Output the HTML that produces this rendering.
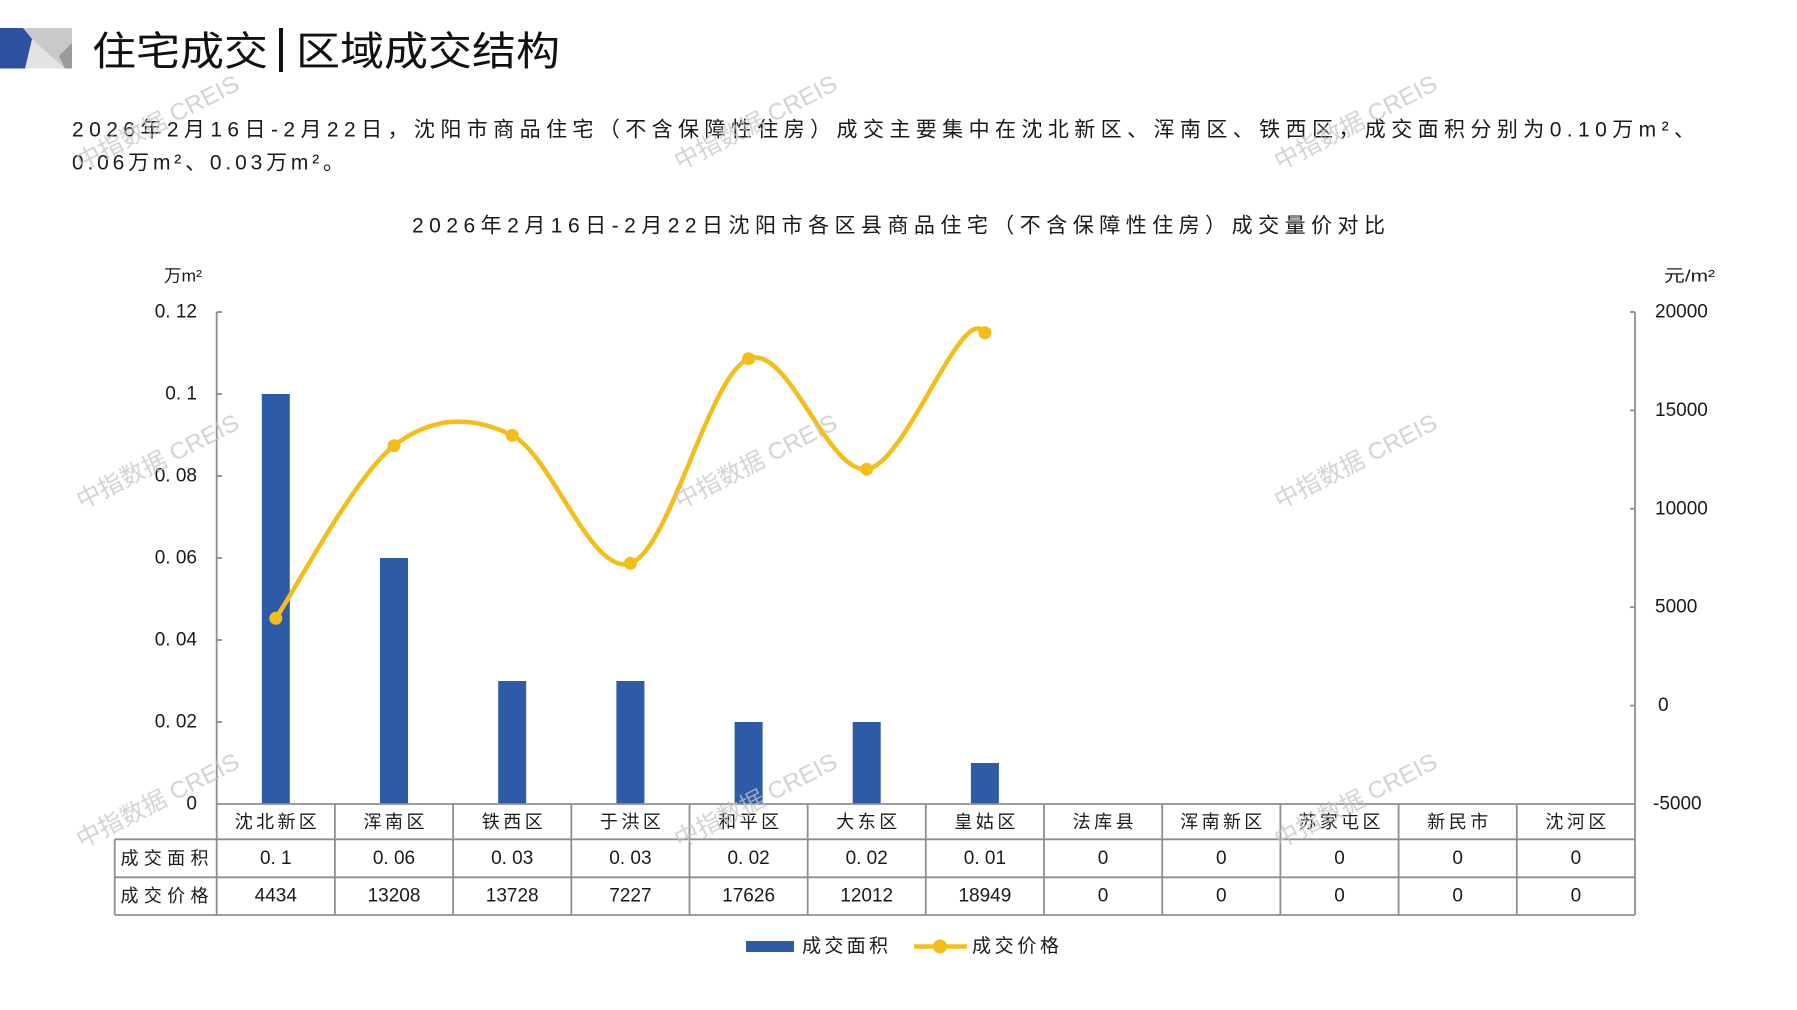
<!DOCTYPE html>
<html><head><meta charset="utf-8">
<style>
html,body{margin:0;padding:0;background:#fff;}
svg{display:block;}
text{font-family:"Liberation Sans","Noto Sans CJK SC",sans-serif;fill:#1a1a1a;}
.cjk{font-family:"Liberation Sans","Noto Sans CJK SC",sans-serif;}
</style></head>
<body>
<svg width="1797" height="1010" viewBox="0 0 1797 1010" xmlns="http://www.w3.org/2000/svg">
<rect x="0" y="0" width="1797" height="1010" fill="#fff"/>

<!-- logo -->
<rect x="23" y="28" width="49" height="40.5" fill="#c9c9c9"/>
<polygon points="31.7,39 65,68.5 25,68.5" fill="#e3e3e3"/>
<polygon points="72,43 72,68.5 65,68.5 59,56" fill="#9a9a9a"/>
<polygon points="0,28 23,28 32,39 25,68.5 0,68.5" fill="#2f50a0"/>

<!-- title -->
<text x="92" y="52" font-size="40" dominant-baseline="central" textLength="176" lengthAdjust="spacingAndGlyphs" style="fill:#111">住宅成交</text>
<rect x="279" y="28" width="4" height="44" fill="#111"/>
<text x="296" y="52" font-size="40" dominant-baseline="central" textLength="264" lengthAdjust="spacingAndGlyphs" style="fill:#111">区域成交结构</text>

<!-- paragraph -->
<text x="72" y="130" font-size="21" dominant-baseline="central" textLength="1623" lengthAdjust="spacing">2026年2月16日-2月22日，沈阳市商品住宅（不含保障性住房）成交主要集中在沈北新区、浑南区、铁西区，成交面积分别为0.10万m²、</text>
<text x="72" y="163" font-size="21" dominant-baseline="central" textLength="272" lengthAdjust="spacing">0.06万m²、0.03万m²。</text>

<!-- chart title -->
<text x="412" y="226" font-size="21" dominant-baseline="central" textLength="973" lengthAdjust="spacing">2026年2月16日-2月22日沈阳市各区县商品住宅（不含保障性住房）成交量价对比</text>

<!-- units -->
<text x="164" y="276" font-size="17" dominant-baseline="central" textLength="38" lengthAdjust="spacingAndGlyphs">万m²</text>
<text x="1664" y="276" font-size="17" dominant-baseline="central" textLength="51" lengthAdjust="spacingAndGlyphs">元/m²</text>

<!-- bars -->
<g fill="#2e5ba7">
<rect x="261.8" y="394" width="28" height="410"/>
<rect x="380.0" y="558" width="28" height="246"/>
<rect x="498.2" y="681" width="28" height="123"/>
<rect x="616.4" y="681" width="28" height="123"/>
<rect x="734.6" y="722" width="28" height="82"/>
<rect x="852.7" y="722" width="28" height="82"/>
<rect x="970.9" y="763" width="28" height="41"/>
</g>

<!-- axes & table lines -->
<g stroke="#8f8f8f" stroke-width="1.8" fill="none">
<line x1="216.7" y1="312" x2="216.7" y2="915"/>
<line x1="1635" y1="312" x2="1635" y2="915"/>
<line x1="216.7" y1="804" x2="1635" y2="804"/>
<line x1="114.7" y1="839.3" x2="1635" y2="839.3"/>
<line x1="114.7" y1="877.3" x2="1635" y2="877.3"/>
<line x1="114.7" y1="915" x2="1635" y2="915"/>
<line x1="114.7" y1="839.3" x2="114.7" y2="915"/>
<line x1="334.9" y1="804" x2="334.9" y2="915"/>
<line x1="453.1" y1="804" x2="453.1" y2="915"/>
<line x1="571.3" y1="804" x2="571.3" y2="915"/>
<line x1="689.5" y1="804" x2="689.5" y2="915"/>
<line x1="807.7" y1="804" x2="807.7" y2="915"/>
<line x1="925.8" y1="804" x2="925.8" y2="915"/>
<line x1="1044.0" y1="804" x2="1044.0" y2="915"/>
<line x1="1162.2" y1="804" x2="1162.2" y2="915"/>
<line x1="1280.4" y1="804" x2="1280.4" y2="915"/>
<line x1="1398.6" y1="804" x2="1398.6" y2="915"/>
<line x1="1516.8" y1="804" x2="1516.8" y2="915"/>
<!-- left ticks -->
<line x1="216.7" y1="312" x2="222" y2="312"/>
<line x1="216.7" y1="394" x2="222" y2="394"/>
<line x1="216.7" y1="476" x2="222" y2="476"/>
<line x1="216.7" y1="558" x2="222" y2="558"/>
<line x1="216.7" y1="640" x2="222" y2="640"/>
<line x1="216.7" y1="722" x2="222" y2="722"/>
<!-- right ticks -->
<line x1="1630" y1="312" x2="1635" y2="312"/>
<line x1="1630" y1="410.4" x2="1635" y2="410.4"/>
<line x1="1630" y1="508.8" x2="1635" y2="508.8"/>
<line x1="1630" y1="607.2" x2="1635" y2="607.2"/>
<line x1="1630" y1="705.6" x2="1635" y2="705.6"/>
</g>

<!-- left axis labels -->
<g font-size="19" text-anchor="end" dominant-baseline="central">
<text x="197" y="312">0. 12</text>
<text x="197" y="394">0. 1</text>
<text x="197" y="476">0. 08</text>
<text x="197" y="558">0. 06</text>
<text x="197" y="640">0. 04</text>
<text x="197" y="722">0. 02</text>
<text x="197" y="804">0</text>
</g>
<!-- right axis labels -->
<g font-size="19" text-anchor="start" dominant-baseline="central">
<text x="1655" y="312">20000</text>
<text x="1655" y="410.4">15000</text>
<text x="1655" y="508.8">10000</text>
<text x="1655" y="607.2">5000</text>
<text x="1658" y="705.6">0</text>
<text x="1653" y="804">-5000</text>
</g>

<!-- price line -->
<path d="M275.8,618.3 C295.5,589.5 354.6,476.2 394.0,445.7 C433.4,415.2 472.8,415.8 512.2,435.4 C551.6,455.0 591.0,576.2 630.4,563.4 C669.8,550.6 709.2,374.4 748.6,358.7 C788.0,343.0 827.3,473.5 866.7,469.2 C906.1,464.9 962,300 984.9,332.7" fill="none" stroke="#f5bd1a" stroke-width="4.5" stroke-linecap="round"/>
<g fill="#f5bd1a">
<circle cx="275.8" cy="618.3" r="6.5"/>
<circle cx="394.0" cy="445.7" r="6.5"/>
<circle cx="512.2" cy="435.4" r="6.5"/>
<circle cx="630.4" cy="563.4" r="6.5"/>
<circle cx="748.6" cy="358.7" r="6.5"/>
<circle cx="866.7" cy="469.2" r="6.5"/>
<circle cx="984.9" cy="332.7" r="6.5"/>
</g>

<!-- table header -->
<g font-size="18" text-anchor="middle" dominant-baseline="central">
<text x="275.8" y="822" textLength="82" lengthAdjust="spacing">沈北新区</text>
<text x="394.0" y="822" textLength="61" lengthAdjust="spacing">浑南区</text>
<text x="512.2" y="822" textLength="61" lengthAdjust="spacing">铁西区</text>
<text x="630.4" y="822" textLength="61" lengthAdjust="spacing">于洪区</text>
<text x="748.6" y="822" textLength="61" lengthAdjust="spacing">和平区</text>
<text x="866.7" y="822" textLength="61" lengthAdjust="spacing">大东区</text>
<text x="984.9" y="822" textLength="61" lengthAdjust="spacing">皇姑区</text>
<text x="1103.1" y="822" textLength="61" lengthAdjust="spacing">法库县</text>
<text x="1221.3" y="822" textLength="82" lengthAdjust="spacing">浑南新区</text>
<text x="1339.5" y="822" textLength="82" lengthAdjust="spacing">苏家屯区</text>
<text x="1457.7" y="822" textLength="61" lengthAdjust="spacing">新民市</text>
<text x="1575.9" y="822" textLength="61" lengthAdjust="spacing">沈河区</text>
</g>
<g font-size="18" text-anchor="middle" dominant-baseline="central">
<text x="164.5" y="858.5" textLength="88" lengthAdjust="spacing">成交面积</text>
<text x="164.5" y="896" textLength="88" lengthAdjust="spacing">成交价格</text>
</g>
<g font-size="19" text-anchor="middle" dominant-baseline="central">
<text x="275.8" y="858.5">0. 1</text>
<text x="394.0" y="858.5">0. 06</text>
<text x="512.2" y="858.5">0. 03</text>
<text x="630.4" y="858.5">0. 03</text>
<text x="748.6" y="858.5">0. 02</text>
<text x="866.7" y="858.5">0. 02</text>
<text x="984.9" y="858.5">0. 01</text>
<text x="1103.1" y="858.5">0</text>
<text x="1221.3" y="858.5">0</text>
<text x="1339.5" y="858.5">0</text>
<text x="1457.7" y="858.5">0</text>
<text x="1575.9" y="858.5">0</text>
<text x="275.8" y="896">4434</text>
<text x="394.0" y="896">13208</text>
<text x="512.2" y="896">13728</text>
<text x="630.4" y="896">7227</text>
<text x="748.6" y="896">17626</text>
<text x="866.7" y="896">12012</text>
<text x="984.9" y="896">18949</text>
<text x="1103.1" y="896">0</text>
<text x="1221.3" y="896">0</text>
<text x="1339.5" y="896">0</text>
<text x="1457.7" y="896">0</text>
<text x="1575.9" y="896">0</text>
</g>

<!-- legend -->
<rect x="746" y="941" width="48" height="11" fill="#2e5ba7"/>
<text x="802" y="946.5" font-size="19" dominant-baseline="central" textLength="86" lengthAdjust="spacing">成交面积</text>
<line x1="914" y1="946.5" x2="967" y2="946.5" stroke="#f5bd1a" stroke-width="4.5"/>
<circle cx="940" cy="946.5" r="7" fill="#f5bd1a"/>
<text x="972" y="946.5" font-size="19" dominant-baseline="central" textLength="87" lengthAdjust="spacing">成交价格</text>

<!-- watermarks -->
<g font-size="24" text-anchor="middle" dominant-baseline="central" style="fill:#c4c4c4" opacity="0.75">
<text x="158" y="123" transform="rotate(-27 158 123)" textLength="179" lengthAdjust="spacingAndGlyphs" style="fill:#c4c4c4">中指数据 CREIS</text>
<text x="756" y="123" transform="rotate(-27 756 123)" textLength="179" lengthAdjust="spacingAndGlyphs" style="fill:#c4c4c4">中指数据 CREIS</text>
<text x="1356" y="123" transform="rotate(-27 1356 123)" textLength="179" lengthAdjust="spacingAndGlyphs" style="fill:#c4c4c4">中指数据 CREIS</text>
<text x="158" y="462" transform="rotate(-27 158 462)" textLength="179" lengthAdjust="spacingAndGlyphs" style="fill:#c4c4c4">中指数据 CREIS</text>
<text x="756" y="462" transform="rotate(-27 756 462)" textLength="179" lengthAdjust="spacingAndGlyphs" style="fill:#c4c4c4">中指数据 CREIS</text>
<text x="1356" y="462" transform="rotate(-27 1356 462)" textLength="179" lengthAdjust="spacingAndGlyphs" style="fill:#c4c4c4">中指数据 CREIS</text>
<text x="158" y="801" transform="rotate(-27 158 801)" textLength="179" lengthAdjust="spacingAndGlyphs" style="fill:#c4c4c4">中指数据 CREIS</text>
<text x="756" y="801" transform="rotate(-27 756 801)" textLength="179" lengthAdjust="spacingAndGlyphs" style="fill:#c4c4c4">中指数据 CREIS</text>
<text x="1356" y="801" transform="rotate(-27 1356 801)" textLength="179" lengthAdjust="spacingAndGlyphs" style="fill:#c4c4c4">中指数据 CREIS</text>
</g>
</svg>
</body></html>
